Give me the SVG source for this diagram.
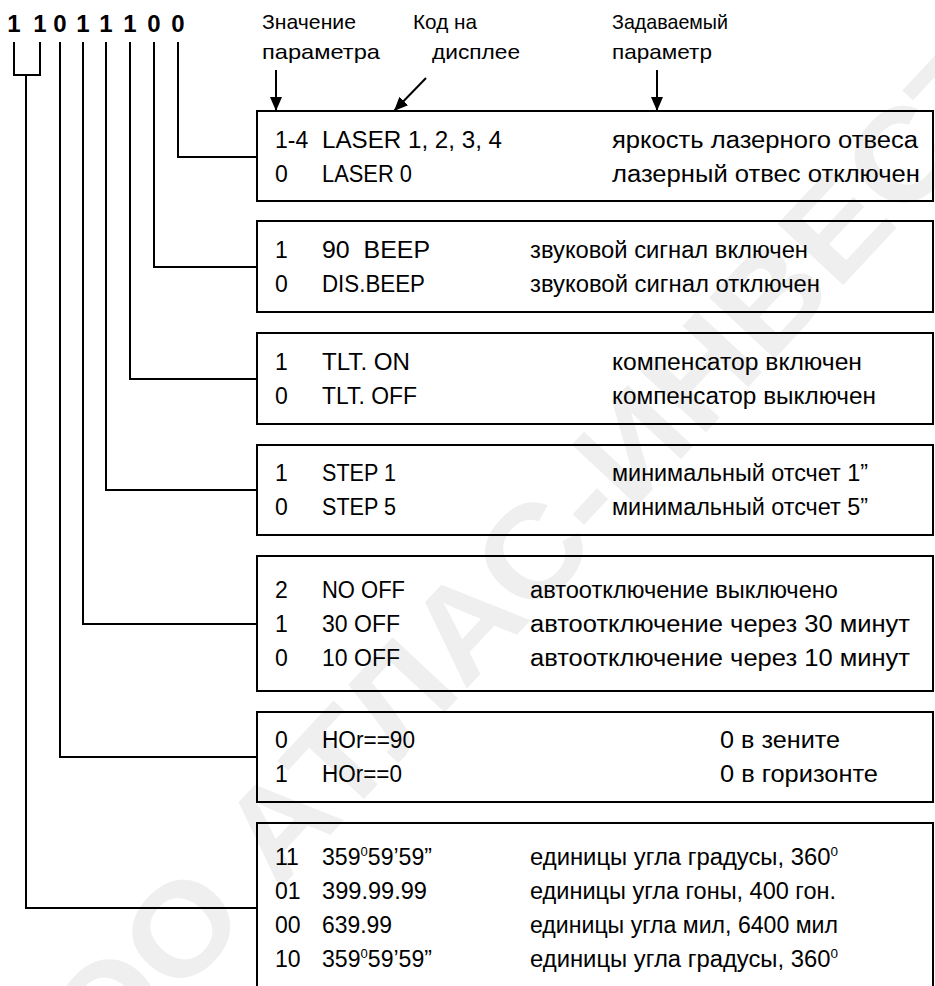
<svg xmlns="http://www.w3.org/2000/svg" width="935" height="986" viewBox="0 0 935 986">
<defs>
<marker id="ah" viewBox="0 0 14 12" refX="14" refY="6" markerWidth="14" markerHeight="12" markerUnits="userSpaceOnUse" orient="auto">
<path d="M0,0 L14,6 L0,12 z" fill="#000"/>
</marker>
<style>
text{font-family:"Liberation Sans",Arial,sans-serif;fill:#000}
.t{font-size:23px}
.h{font-size:21px}
.d{font-size:24px;font-weight:bold}
.box{fill:none;stroke:#000;stroke-width:2}
.ln{fill:none;stroke:#000;stroke-width:2}
.ar{fill:none;stroke:#000;stroke-width:2;marker-end:url(#ah)}
.wm{font-size:130px;font-weight:bold;fill:#efefef}
.sp{font-size:13px}
</style>
</defs>
<rect width="935" height="986" fill="#fff"/>
<text class="wm" x="527" y="624" text-anchor="middle" textLength="1460" lengthAdjust="spacingAndGlyphs" transform="rotate(-47 527 624)">ООО АТЛАС-ИНВЕСТ</text>

<g id="header">
<text class="d" x="14" y="32" text-anchor="middle">1</text>
<text class="d" x="40" y="32" text-anchor="middle">1</text>
<text class="d" x="60" y="32" text-anchor="middle">0</text>
<text class="d" x="83" y="32" text-anchor="middle">1</text>
<text class="d" x="106" y="32" text-anchor="middle">1</text>
<text class="d" x="130" y="32" text-anchor="middle">1</text>
<text class="d" x="154" y="32" text-anchor="middle">0</text>
<text class="d" x="178" y="32" text-anchor="middle">0</text>
<text class="h" x="262" y="29" textLength="94" lengthAdjust="spacingAndGlyphs">Значение</text>
<text class="h" x="262" y="59" textLength="118" lengthAdjust="spacingAndGlyphs">параметра</text>
<text class="h" x="413" y="29" textLength="64" lengthAdjust="spacingAndGlyphs">Код на</text>
<text class="h" x="432" y="59" textLength="88" lengthAdjust="spacingAndGlyphs">дисплее</text>
<text class="h" x="612" y="29" textLength="116" lengthAdjust="spacingAndGlyphs">Задаваемый</text>
<text class="h" x="612" y="59" textLength="100" lengthAdjust="spacingAndGlyphs">параметр</text>
</g>

<g id="connectors">
<path class="ar" d="M276,70 V111"/>
<path class="ar" d="M426,78 L394,111"/>
<path class="ar" d="M657,70 V111"/>
<path class="ln" d="M178,42 V157 H257"/>
<path class="ln" d="M154,42 V267 H257"/>
<path class="ln" d="M130,42 V379 H257"/>
<path class="ln" d="M106,42 V490 H257"/>
<path class="ln" d="M83,42 V624 H257"/>
<path class="ln" d="M60,42 V757 H257"/>
<path class="ln" d="M14,42 V75 H40 V42 M26,75 V908 H257"/>
</g>

<g id="box1">
<rect class="box" x="257" y="111" width="676" height="90"/>
<text class="t" x="275" y="148">1-4</text>
<text class="t" x="322" y="148" textLength="180" lengthAdjust="spacingAndGlyphs">LASER 1, 2, 3, 4</text>
<text class="t" x="612" y="148" textLength="306" lengthAdjust="spacingAndGlyphs">яркость лазерного отвеса</text>
<text class="t" x="275" y="182">0</text>
<text class="t" x="322" y="182" textLength="90" lengthAdjust="spacingAndGlyphs">LASER 0</text>
<text class="t" x="612" y="182" textLength="308" lengthAdjust="spacingAndGlyphs">лазерный отвес отключен</text>
</g>

<g id="box2">
<rect class="box" x="257" y="221" width="676" height="91"/>
<text class="t" x="275" y="258">1</text>
<text class="t" x="322" y="258" textLength="108" lengthAdjust="spacingAndGlyphs" xml:space="preserve">90  BEEP</text>
<text class="t" x="530" y="258" textLength="278" lengthAdjust="spacingAndGlyphs">звуковой сигнал включен</text>
<text class="t" x="275" y="292">0</text>
<text class="t" x="322" y="292" textLength="103" lengthAdjust="spacingAndGlyphs">DIS.BEEP</text>
<text class="t" x="530" y="292" textLength="290" lengthAdjust="spacingAndGlyphs">звуковой сигнал отключен</text>
</g>

<g id="box3">
<rect class="box" x="257" y="333" width="676" height="91"/>
<text class="t" x="275" y="370">1</text>
<text class="t" x="322" y="370" textLength="88" lengthAdjust="spacingAndGlyphs">TLT. ON</text>
<text class="t" x="612" y="370" textLength="250" lengthAdjust="spacingAndGlyphs">компенсатор включен</text>
<text class="t" x="275" y="404">0</text>
<text class="t" x="322" y="404" textLength="95" lengthAdjust="spacingAndGlyphs">TLT. OFF</text>
<text class="t" x="612" y="404" textLength="264" lengthAdjust="spacingAndGlyphs">компенсатор выключен</text>
</g>

<g id="box4">
<rect class="box" x="257" y="445" width="676" height="90"/>
<text class="t" x="275" y="481">1</text>
<text class="t" x="322" y="481" textLength="74" lengthAdjust="spacingAndGlyphs">STEP 1</text>
<text class="t" x="612" y="481" textLength="256" lengthAdjust="spacingAndGlyphs">минимальный отсчет 1”</text>
<text class="t" x="275" y="515">0</text>
<text class="t" x="322" y="515" textLength="74" lengthAdjust="spacingAndGlyphs">STEP 5</text>
<text class="t" x="612" y="515" textLength="256" lengthAdjust="spacingAndGlyphs">минимальный отсчет 5”</text>
</g>

<g id="box5">
<rect class="box" x="257" y="556" width="676" height="135"/>
<text class="t" x="275" y="598">2</text>
<text class="t" x="322" y="598" textLength="83" lengthAdjust="spacingAndGlyphs">NO OFF</text>
<text class="t" x="530" y="598" textLength="308" lengthAdjust="spacingAndGlyphs">автоотключение выключено</text>
<text class="t" x="275" y="632">1</text>
<text class="t" x="322" y="632" textLength="78" lengthAdjust="spacingAndGlyphs">30 OFF</text>
<text class="t" x="530" y="632" textLength="380" lengthAdjust="spacingAndGlyphs">автоотключение через 30 минут</text>
<text class="t" x="275" y="666">0</text>
<text class="t" x="322" y="666" textLength="78" lengthAdjust="spacingAndGlyphs">10 OFF</text>
<text class="t" x="530" y="666" textLength="380" lengthAdjust="spacingAndGlyphs">автоотключение через 10 минут</text>
</g>

<g id="box6">
<rect class="box" x="257" y="712" width="676" height="90"/>
<text class="t" x="275" y="748">0</text>
<text class="t" x="322" y="748" textLength="93" lengthAdjust="spacingAndGlyphs">HOr==90</text>
<text class="t" x="720" y="748" textLength="120" lengthAdjust="spacingAndGlyphs">0 в зените</text>
<text class="t" x="275" y="782">1</text>
<text class="t" x="322" y="782" textLength="80" lengthAdjust="spacingAndGlyphs">HOr==0</text>
<text class="t" x="720" y="782" textLength="158" lengthAdjust="spacingAndGlyphs">0 в горизонте</text>
</g>

<g id="box7">
<path class="box" d="M257,1000 V823 H933 V1000"/>
<text class="t" x="275" y="865">11</text>
<text class="t" x="322" y="865" textLength="110" lengthAdjust="spacingAndGlyphs">359<tspan class="sp" dy="-9">0</tspan><tspan dy="9">59’59”</tspan></text>
<text class="t" x="530" y="865" textLength="308" lengthAdjust="spacingAndGlyphs">единицы угла градусы, 360<tspan class="sp" dy="-9">0</tspan></text>
<text class="t" x="275" y="899">01</text>
<text class="t" x="322" y="899" textLength="105" lengthAdjust="spacingAndGlyphs">399.99.99</text>
<text class="t" x="530" y="899" textLength="306" lengthAdjust="spacingAndGlyphs">единицы угла гоны, 400 гон.</text>
<text class="t" x="275" y="933">00</text>
<text class="t" x="322" y="933" textLength="70" lengthAdjust="spacingAndGlyphs">639.99</text>
<text class="t" x="530" y="933" textLength="308" lengthAdjust="spacingAndGlyphs">единицы угла мил, 6400 мил</text>
<text class="t" x="275" y="967">10</text>
<text class="t" x="322" y="967" textLength="110" lengthAdjust="spacingAndGlyphs">359<tspan class="sp" dy="-9">0</tspan><tspan dy="9">59’59”</tspan></text>
<text class="t" x="530" y="967" textLength="308" lengthAdjust="spacingAndGlyphs">единицы угла градусы, 360<tspan class="sp" dy="-9">0</tspan></text>
</g>
</svg>
